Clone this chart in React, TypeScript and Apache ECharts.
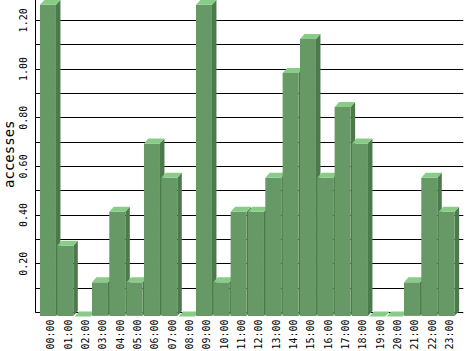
import React, { useEffect, useRef } from "react";
import * as echarts from "echarts";

const hours = [
  "00:00", "01:00", "02:00", "03:00", "04:00", "05:00", "06:00", "07:00",
  "08:00", "09:00", "10:00", "11:00", "12:00", "13:00", "14:00", "15:00",
  "16:00", "17:00", "18:00", "19:00", "20:00", "21:00", "22:00", "23:00",
];
const accesses = [
  1.28, 0.29, 0, 0.14, 0.43, 0.14, 0.71, 0.57,
  0, 1.28, 0.14, 0.43, 0.43, 0.57, 1.0, 1.14,
  0.57, 0.86, 0.71, 0, 0, 0.14, 0.57, 0.43,
];
const yMin = 0;
const yMax = 1.3;
const yStep = 0.1;
const axisName = "accesses";

const FRONT = "#669966";
const TOP = "#88cc88";
const SIDE = "#4d7a4d";

export default function App() {
  const ref = useRef<HTMLDivElement>(null);
  useEffect(() => {
    if (!ref.current) return;
    const chart = echarts.init(ref.current, undefined, { renderer: "svg" });
    const gridTop = -4;
    const gridBottom = 38.6;
    chart.setOption({
      animation: false,
      grid: [
        { left: 35.7, right: 4.7, top: gridTop, bottom: gridBottom, outerBoundsMode: "none", containLabel: false },
        { left: 42.1, width: 416, top: gridTop, bottom: gridBottom, outerBoundsMode: "none", containLabel: false },
      ],
      xAxis: [
        { gridIndex: 0, type: "value", show: false, min: 0, max: 1 },
        {
          gridIndex: 1,
          type: "category",
          data: hours,
          boundaryGap: true,
          axisLine: { show: false },
          axisTick: { show: false },
          axisLabel: {
            rotate: 90,
            interval: 0,
            margin: 7,
            fontFamily: "DejaVu Sans Mono",
            fontSize: 10,
            color: "#000",
          },
        },
      ],
      yAxis: [
        {
          gridIndex: 0,
          type: "value",
          min: yMin,
          max: yMax,
          interval: yStep,
          name: axisName,
          nameLocation: "middle",
          nameRotate: 90,
          nameGap: 20,
          nameMoveOverlap: false,
          nameTextStyle: {
            fontFamily: "DejaVu Sans Mono",
            fontSize: 14,
            color: "#000",
          },
          axisLine: { show: true, lineStyle: { color: "#000", width: 1 } },
          axisTick: { show: false },
          splitLine: { show: true, lineStyle: { color: "#000", width: 1 } },
          axisLabel: {
            rotate: 90,
            margin: 7,
            fontFamily: "DejaVu Sans Mono",
            fontSize: 10,
            color: "#000",
            showMaxLabel: false,
            formatter: (v: number) => {
              const r = v / 0.2;
              if (v > 1e-9 && Math.abs(r - Math.round(r)) < 1e-6) return v.toFixed(2);
              return "";
            },
          },
        },
        { gridIndex: 1, type: "value", min: yMin, max: yMax, show: false },
      ],
      series: [
        {
          type: "custom",
          xAxisIndex: 1,
          yAxisIndex: 1,
          clip: false,
          data: accesses.map((v, i) => [i, v]),
          encode: { x: 0, y: 1 },
          renderItem: (params: any, api: any) => {
            const i = api.value(0);
            const v = api.value(1);
            const p = api.coord([i, v]);
            const y0 = api.coord([i, 0])[1];
            const cx = p[0];
            const yv = p[1];
            const w = 16;
            const dx = 4.5;
            const dy = 5;
            const xl = cx - 10.8;
            const xr = xl + w;
            const yb = yv - 1;
            const yf = yb + dy;
            const yBot = y0 + 3.5;
            const children: any[] = [];
            if (yBot > yf) {
              children.push({
                type: "polygon",
                shape: { points: [[xr, yf], [xr + dx, yb], [xr + dx, yBot - dy], [xr, yBot]] },
                style: { fill: SIDE },
              });
              children.push({
                type: "rect",
                shape: { x: xl, y: yf, width: w, height: yBot - yf },
                style: { fill: FRONT },
              });
            }
            children.push({
              type: "polygon",
              shape: { points: [[xl, yf], [xl + dx, yb], [xr + dx, yb], [xr, yf]] },
              style: { fill: TOP },
            });
            return { type: "group", children };
          },
        },
      ],
    });
    return () => chart.dispose();
  }, []);
  return (
    <div
      ref={ref}
      style={{ position: "absolute", left: 0, top: 0, width: 468, height: 351, background: "#fff" }}
    />
  );
}
